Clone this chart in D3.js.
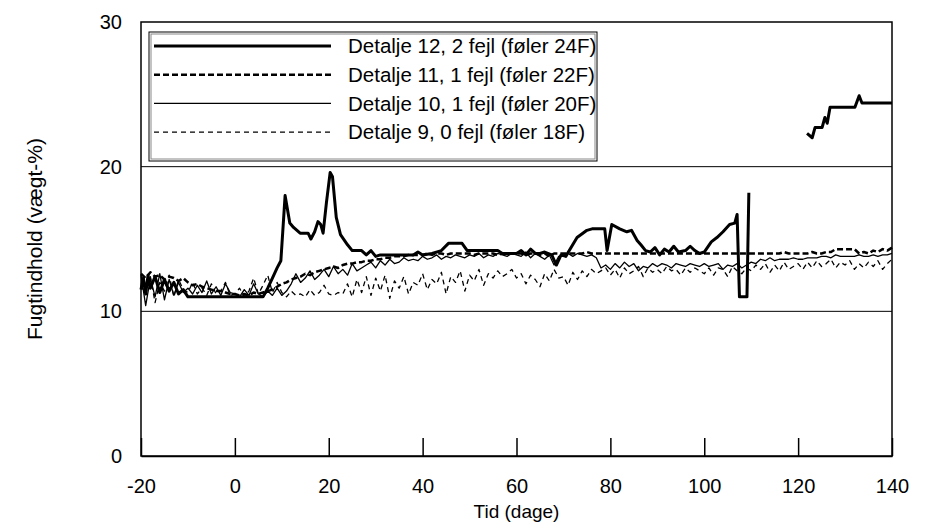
<!DOCTYPE html>
<meta charset="utf-8">
<style>
body, html {
  padding: 0;
  margin: 0;
  background: #fff;
  font-family: "Liberation Sans", Arial, sans-serif;
}
</style>
<body>
<script src="https://d3js.org/d3.v7.min.js"></script>
<script>

var width = 925,
    height = 531,
    margin = {top: 22, right: 33, bottom: 75, left: 141},
    fontSize = 20

// days for the three daily series
var days = d3.range(-20, 141)

// Detalje 9, 0 fejl (føler 18F), thin dashed
var s9 = [
  11.8, 11.2, 12.4, 10.6, 12.0, 11.4, 12.5, 11.0, 12.2, 11.5,
  11.3, 12.0, 11.2, 11.6, 11.1, 11.9, 11.2, 11.4, 12.0, 11.1,
  11.2, 11.6, 11.0, 11.4, 12.3, 11.2, 11.8, 12.5, 11.3, 12.0,
  11.3, 11.0, 11.4, 11.1, 11.2, 11.0, 11.5, 11.1, 11.3, 11.8,
  11.2, 11.1, 11.3, 11.2, 11.9, 11.0, 12.2, 11.3, 12.4, 11.1,
  12.3, 11.4, 12.5, 10.9, 12.1, 11.6, 12.4, 11.2, 12.0, 11.8,
  12.6, 11.5, 12.2, 11.9, 12.7, 11.2, 12.4, 12.0, 12.8, 11.4,
  12.5, 12.1, 12.9, 11.8, 12.6, 12.3, 12.8, 12.4, 12.6, 12.9,
  12.3, 12.6, 11.9, 12.5, 12.2, 11.7, 12.6, 12.1, 12.9, 12.3,
  12.4, 11.8, 12.7, 12.2, 12.8, 12.4, 12.9, 12.6, 12.8, 13.0,
  12.5, 12.9, 12.3, 13.0, 12.6, 12.8, 13.1, 12.4, 13.0, 12.7,
  12.9, 12.6, 13.1, 12.8, 12.9, 12.5, 13.0, 12.7, 13.0, 12.8,
  12.6, 13.0, 12.5, 13.0, 12.9, 12.4, 13.1, 12.8, 12.6, 13.0,
  12.8, 13.2, 12.9, 13.3, 12.7, 13.2, 12.8, 13.4, 12.9, 13.1,
  13.3, 12.9, 13.4, 13.0, 13.5, 13.1, 13.3, 13.6, 13.0, 13.4,
  13.2, 13.5, 12.9, 13.3, 13.0, 13.4, 13.1, 13.5, 12.9, 13.3, 13.6
]

// Detalje 10, 1 fejl (føler 20F), thin solid
var s10 = [
  12.5, 10.4, 12.3, 11.0, 12.6, 10.8, 12.2, 11.1, 12.0, 11.3,
  11.6, 11.2, 11.8, 11.3, 12.1, 11.2, 11.7, 11.1, 11.9, 11.3,
  11.2, 11.0, 11.5, 11.1, 11.9, 11.2, 11.0, 11.4, 11.1, 11.6,
  11.1, 11.4, 11.9, 12.6, 12.0, 12.3, 12.8, 12.2, 12.5, 12.9,
  12.4, 13.1, 12.6, 12.9, 12.5, 13.3, 12.8, 13.0, 13.2, 13.4,
  13.0, 13.5, 13.2, 13.6, 13.3, 13.4, 13.7, 13.5, 13.6, 13.5,
  13.8, 13.6, 13.7, 13.9, 13.6, 13.8, 13.7, 13.9, 13.8, 13.7,
  13.9, 13.8, 14.0, 13.7, 13.9, 13.8, 14.0, 13.9, 13.8, 14.0,
  13.9, 13.8, 14.1, 13.7, 14.0, 13.8, 13.6, 13.9, 13.2, 13.8,
  13.9, 14.0, 13.8, 14.0, 13.9, 13.8, 13.9, 13.7, 13.0, 13.2,
  12.9, 13.3, 13.0, 13.4, 13.1, 13.3, 12.8, 13.1, 13.0, 13.3,
  13.1, 13.3, 13.2, 13.0, 13.3, 13.2, 13.1, 13.3, 13.2, 13.1,
  13.3, 13.1, 13.2, 13.3, 12.9, 13.2, 13.1, 13.3, 13.0, 13.2,
  13.4, 13.3, 13.6, 13.5, 13.7, 13.5, 13.6, 13.6, 13.6, 13.7,
  13.6, 13.6, 13.7, 13.7, 13.7, 13.8, 13.8, 13.7, 13.9, 13.8,
  13.8, 13.8, 13.8, 13.9, 13.8, 13.8, 13.9, 13.8, 13.9, 13.9, 14.0
]

// Detalje 11, 1 fejl (føler 22F), thick dashed
var s11 = [
  12.6, 12.3, 12.7, 12.4, 12.5, 12.2, 12.4, 12.3, 12.1, 12.3,
  12.0, 11.8, 11.9, 11.7, 11.6, 11.5, 11.4, 11.4, 11.3, 11.2,
  11.2, 11.1, 11.2, 11.1, 11.3, 11.2, 11.3, 11.4, 11.5, 11.7,
  11.9, 12.0, 12.2, 12.3, 12.4, 12.6, 12.5, 12.7, 12.8, 12.9,
  13.0, 13.1, 13.0, 13.2, 13.3, 13.3, 13.4, 13.4, 13.5, 13.5,
  13.6, 13.6, 13.7, 13.7, 13.8, 13.8, 13.8, 13.9, 13.9, 13.9,
  13.9, 14.0, 13.9, 14.0, 14.0, 13.9, 14.0, 14.0, 14.0, 14.0,
  14.0, 13.9, 14.0, 14.0, 14.0, 14.0, 13.9, 14.0, 14.0, 14.0,
  14.0, 14.0, 13.9, 14.0, 14.0, 13.9, 14.0, 13.8, 14.0, 14.0,
  14.0, 14.0, 14.0, 14.0, 14.0, 14.1, 14.0, 14.0, 14.0, 14.0,
  14.0, 14.0, 14.0, 14.0, 14.0, 14.0, 14.0, 14.0, 14.0, 14.0,
  14.0, 14.0, 14.0, 14.0, 14.0, 14.0, 14.0, 14.0, 14.0, 14.0,
  14.0, 14.0, 14.0, 14.0, 14.0, 14.0, 14.0, 14.0, 14.0, 14.0,
  14.0, 14.0, 14.0, 14.0, 14.0, 14.0, 14.0, 14.1, 14.0, 14.0,
  14.0, 14.0, 14.0, 14.1, 14.0, 14.0, 14.1, 14.1, 14.3, 14.3,
  14.3, 14.3, 14.3, 14.0, 14.1, 14.0, 14.2, 14.1, 14.3, 14.2, 14.4
]

// Detalje 12, 2 fejl (føler 24F), thick solid, irregular days, null = gap
var s12Days = [
  -20, -19.5, -19, -18.5, -18, -17, -16, -15, -14, -13, -12, -11, -10,
  6, 7, 8, 9, 9.8, 10.7, 11.7, 12.5, 13.9, 15.6, 16.2, 17, 17.7, 18.3, 18.8,
  19.5, 20.3, 20.8, 21.6, 22.5, 24, 25, 27, 28, 29, 30, 31, 35, 38, 39, 40,
  42, 44, 45.5, 48.4, 49.5, 56, 57, 60, 61, 62, 63, 64, 65, 66, 67.5, 68.5,
  69.5, 70.5, 72.9, 75, 76.1, 78.8, 79.3, 80.3, 82, 83.5, 84.5, 85.7, 86.5,
  87.5, 88.5, 89.5, 90.5, 91.5, 92.5, 93.5, 94.5, 96, 97, 98, 99, 100,
  101.5, 102.7, 104, 105.4, 106.5, 107, 107.5, 109.1, 109.5, 115,
  121.9, 123, 123.6, 125.1, 125.7, 126.2, 126.8, 132.1, 133, 133.6, 140
]
var s12 = [
  11.5, 12.3, 11.2, 12.5, 11.6, 12.4, 11.3, 12.2, 11.4, 12.0, 11.2, 11.5, 11.0,
  11.0, 11.6, 12.3, 13.0, 13.5, 18.0, 16.1, 15.8, 15.4, 15.4, 15.0, 15.5, 16.2, 16.0, 15.4,
  17.5, 19.6, 19.3, 16.5, 15.3, 14.6, 14.2, 14.2, 13.9, 14.2, 13.8, 13.9, 13.9, 13.9, 14.1, 13.9,
  14.0, 14.2, 14.7, 14.7, 14.2, 14.2, 14.0, 14.0, 14.2, 13.9, 14.3, 14.0, 14.0, 14.1, 13.9, 13.2,
  13.9, 13.8, 15.1, 15.6, 15.7, 15.7, 14.2, 16.0, 15.7, 15.5, 15.6, 14.9, 14.6,
  14.2, 14.1, 14.4, 13.9, 14.3, 14.1, 14.5, 14.1, 14.2, 14.5, 14.2, 14.0, 14.1,
  14.8, 15.1, 15.5, 16.0, 16.1, 16.7, 11.0, 11.0, 18.2, null,
  22.3, 22.0, 22.7, 22.7, 23.4, 23.0, 24.1, 24.1, 24.9, 24.4, 24.4
]

var xTicks = [-20, 0, 20, 40, 60, 80, 100, 120, 140]
var yTicks = [0, 10, 20, 30]

var series = [
  {name: "Detalje 12, 2 fejl (føler 24F)", x: s12Days, y: s12, width: 3, dash: null},
  {name: "Detalje 11, 1 fejl (føler 22F)", x: days, y: s11, width: 2.5, dash: "6,3"},
  {name: "Detalje 10, 1 fejl (føler 20F)", x: days, y: s10, width: 1.3, dash: null},
  {name: "Detalje 9, 0 fejl (føler 18F)", x: days, y: s9, width: 1.3, dash: "5,4"}
]

var svg = d3.select("body").append("svg")
    .attr("width", width)
    .attr("height", height)
    .style("font-family", "'Liberation Sans', Arial, sans-serif")

var x = d3.scaleLinear()
    .domain([-20, 140])
    .range([margin.left, width - margin.right])

var y = d3.scaleLinear()
    .domain([0, 30])
    .range([height - margin.bottom, margin.top])

// gridlines
svg.append("g")
  .selectAll("line")
  .data([10, 20])
  .join("line")
    .attr("x1", x(-20)).attr("x2", x(140))
    .attr("y1", d => y(d)).attr("y2", d => y(d))
    .attr("stroke", "#000")
    .attr("stroke-width", 1)

// series (drawn back to front)
var line = d3.line()
    .defined(d => d[1] != null)
    .x(d => x(d[0]))
    .y(d => y(d[1]))

svg.append("g")
  .selectAll("path")
  .data(series.slice().reverse())
  .join("path")
    .attr("fill", "none")
    .attr("stroke", "#000")
    .attr("stroke-width", d => d.width)
    .attr("stroke-dasharray", d => d.dash)
    .attr("stroke-linejoin", "round")
    .attr("d", d => line(d.x.map((v, i) => [v, d.y[i]])))

// frame
svg.append("rect")
    .attr("x", x(-20)).attr("y", y(30))
    .attr("width", x(140) - x(-20))
    .attr("height", y(0) - y(30))
    .attr("fill", "none")
    .attr("stroke", "#000")
    .attr("stroke-width", 1.5)

// x axis: ticks pointing into the plot, plain hyphen for negatives
var xAxis = d3.axisBottom(x)
    .tickValues(xTicks)
    .tickFormat(d => String(d))
    .tickSizeInner(-18)
    .tickSizeOuter(0)
    .tickPadding(23)

svg.append("g")
    .attr("transform", "translate(0," + y(0) + ")")
    .call(xAxis)
    .call(g => g.attr("font-family", null).attr("font-size", fontSize))
    .call(g => g.select(".domain").attr("stroke-width", 1.5))
    .call(g => g.selectAll(".tick line").attr("stroke-width", 1.5))
    .call(g => g.selectAll("text").attr("fill", "#000"))

var yAxis = d3.axisLeft(y)
    .tickValues(yTicks)
    .tickFormat(d => String(d))
    .tickSize(0)
    .tickPadding(19)

svg.append("g")
    .attr("transform", "translate(" + x(-20) + ",0)")
    .call(yAxis)
    .call(g => g.attr("font-family", null).attr("font-size", fontSize))
    .call(g => g.select(".domain").remove())
    .call(g => g.selectAll("text").attr("fill", "#000"))

// axis titles
svg.append("text")
    .attr("x", (x(-20) + x(140)) / 2)
    .attr("y", 518)
    .attr("text-anchor", "middle")
    .attr("font-size", 19)
    .text("Tid (dage)")

svg.append("text")
    .attr("transform", "translate(42," + (y(15)) + ") rotate(-90)")
    .attr("text-anchor", "middle")
    .attr("font-size", 21)
    .text("Fugtindhold (vægt-%)")

// legend
var legend = svg.append("g")

legend.append("rect")
    .attr("x", 149).attr("y", 32)
    .attr("width", 448).attr("height", 129)
    .attr("fill", "#fff")
    .attr("stroke", "#000")
    .attr("stroke-width", 1)

legend.append("rect")
    .attr("x", 151).attr("y", 34)
    .attr("width", 444).attr("height", 125)
    .attr("fill", "none")
    .attr("stroke", "#888")
    .attr("stroke-width", 1)

var item = legend.selectAll("g.item")
  .data(series)
  .join("g")
    .attr("class", "item")
    .attr("transform", (d, i) => "translate(0," + (46 + i * 28.7) + ")")

item.append("line")
    .attr("x1", 154).attr("x2", 331)
    .attr("stroke", "#000")
    .attr("stroke-width", d => d.width)
    .attr("stroke-dasharray", d => d.dash)

item.append("text")
    .attr("x", 348)
    .attr("dy", "0.35em")
    .attr("font-size", 20.5)
    .text(d => d.name)

</script>
</body>
